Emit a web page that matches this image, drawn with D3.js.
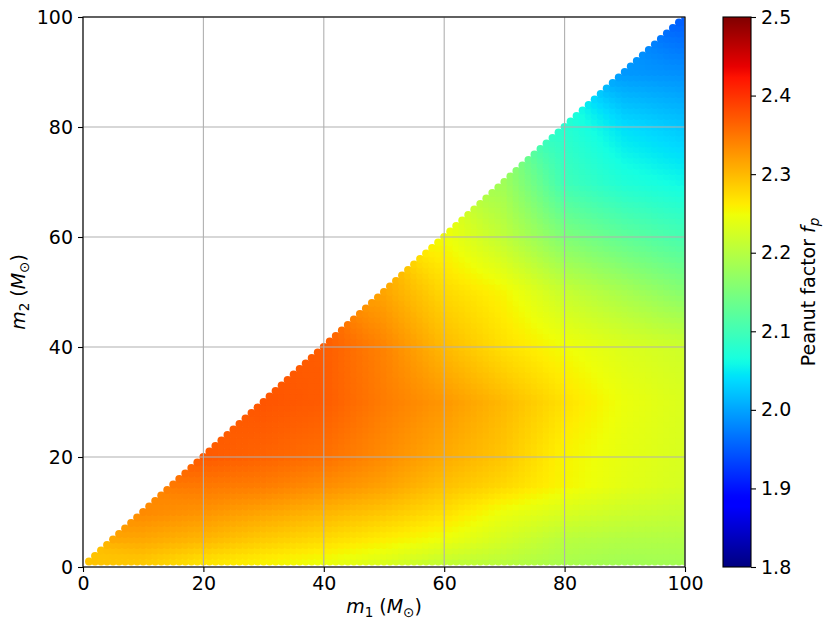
<!DOCTYPE html>
<html><head><meta charset="utf-8">
<script src="https://cdn.jsdelivr.net/npm/d3@7"></script>
<style>
body{margin:0;background:#fff}
svg{display:block}
text{font-family:"DejaVu Sans",sans-serif;fill:#000}
</style>
</head><body>
<svg id="chart" width="830" height="631"></svg>
<script>
// ---- data ----
// grid nodes of primary mass m1 and secondary mass m2 (solar masses)
const m1Nodes = [1, 10, 20, 30, 40, 50, 60, 70, 80, 90, 100];
const m2Nodes = [1, 5, 10, 15, 20, 30, 40, 50, 60, 70, 80, 90, 100];
// peanut factor f_p at (m1Nodes[i], m2Nodes[row]); null where m2 > m1
const fp_m2_1   = [2.292, 2.288, 2.269, 2.258, 2.247, 2.232, 2.212, 2.204, 2.190, 2.183, 2.185];
const fp_m2_5   = [null, 2.312, 2.301, 2.286, 2.274, 2.260, 2.245, 2.224, 2.202, 2.196, 2.195];
const fp_m2_10  = [null, 2.335, 2.327, 2.315, 2.303, 2.290, 2.272, 2.245, 2.229, 2.218, 2.212];
const fp_m2_15  = [null, null, 2.348, 2.345, 2.333, 2.318, 2.295, 2.277, 2.255, 2.238, 2.226];
const fp_m2_20  = [null, null, 2.370, 2.363, 2.354, 2.333, 2.310, 2.290, 2.256, 2.240, 2.228];
const fp_m2_30  = [null, null, null, 2.374, 2.369, 2.345, 2.325, 2.300, 2.270, 2.245, 2.230];
const fp_m2_40  = [null, null, null, null, 2.369, 2.340, 2.300, 2.271, 2.250, 2.232, 2.220];
const fp_m2_50  = [null, null, null, null, null, 2.315, 2.277, 2.255, 2.215, 2.188, 2.160];
const fp_m2_60  = [null, null, null, null, null, null, 2.250, 2.208, 2.155, 2.127, 2.105];
const fp_m2_70  = [null, null, null, null, null, null, null, 2.180, 2.099, 2.072, 2.058];
const fp_m2_80  = [null, null, null, null, null, null, null, null, 2.079, 2.041, 2.024];
const fp_m2_90  = [null, null, null, null, null, null, null, null, null, 1.992, 1.986];
const fp_m2_100 = [null, null, null, null, null, null, null, null, null, null, 1.950];
const fpRows = [fp_m2_1, fp_m2_5, fp_m2_10, fp_m2_15, fp_m2_20, fp_m2_30, fp_m2_40,
                fp_m2_50, fp_m2_60, fp_m2_70, fp_m2_80, fp_m2_90, fp_m2_100];
// sampled masses of the scatter (every integer, m2 <= m1)
const massMin = 1, massMax = 100;
const axisTicks = [0, 20, 40, 60, 80, 100];
const cbarTicks = [1.8, 1.9, 2.0, 2.1, 2.2, 2.3, 2.4, 2.5];
const cbarDomain = [1.8, 2.5];

// ---- helpers ----
function jet(t){
  t = Math.max(0, Math.min(1, t));
  const seg = pts => {
    for (let k = 0; k < pts.length - 1; k++) {
      const [a, va] = pts[k], [b, vb] = pts[k + 1];
      if (t <= b) return va + (vb - va) * (t - a) / (b - a);
    }
    return pts[pts.length - 1][1];
  };
  const r = seg([[0,0],[0.35,0],[0.66,1],[0.89,1],[1,0.5]]);
  const g = seg([[0,0],[0.125,0],[0.375,1],[0.64,1],[0.91,0],[1,0]]);
  const b = seg([[0,0.5],[0.11,1],[0.34,1],[0.65,0],[1,0]]);
  return d3.rgb(r * 255, g * 255, b * 255).formatHex();
}
function fpAt(a, b){
  let i = d3.bisectRight(m1Nodes, a) - 1; i = Math.max(0, Math.min(m1Nodes.length - 2, i));
  let j = d3.bisectRight(m2Nodes, b) - 1; j = Math.max(0, Math.min(m2Nodes.length - 2, j));
  const tx = (a - m1Nodes[i]) / (m1Nodes[i + 1] - m1Nodes[i]);
  const ty = (b - m2Nodes[j]) / (m2Nodes[j + 1] - m2Nodes[j]);
  let s = 0, w = 0;
  [[i, j, (1 - tx) * (1 - ty)], [i + 1, j, tx * (1 - ty)], [i, j + 1, (1 - tx) * ty], [i + 1, j + 1, tx * ty]]
    .forEach(([ii, jj, ww]) => { const v = fpRows[jj][ii]; if (v != null && ww > 0) { s += v * ww; w += ww; } });
  return w > 0 ? s / w : null;
}

// ---- layout ----
const svg = d3.select("#chart");
const L = 83, R = 685, T = 17, B = 567;
const x = d3.scaleLinear([0, 100], [L, R]);
const y = d3.scaleLinear([0, 100], [B, T]);
const color = d3.scaleSequential(cbarDomain, jet);

svg.append("defs").append("clipPath").attr("id", "clip")
  .append("rect").attr("x", L).attr("y", T).attr("width", R - L).attr("height", B - T);

const pts = [];
for (let a = massMin; a <= massMax; a++) for (let b = massMin; b <= a; b++) pts.push({m1: a, m2: b, fp: fpAt(a, b)});

svg.append("g").attr("clip-path", "url(#clip)")
  .selectAll("circle").data(pts).join("circle")
  .attr("cx", d => x(d.m1)).attr("cy", d => y(d.m2)).attr("r", 4)
  .attr("fill", d => color(d.fp));

// grid
const grid = svg.append("g").attr("stroke", "#b0b0b0").attr("stroke-width", 1.1);
axisTicks.forEach(t => {
  grid.append("line").attr("x1", x(t)).attr("x2", x(t)).attr("y1", T).attr("y2", B);
  grid.append("line").attr("y1", y(t)).attr("y2", y(t)).attr("x1", L).attr("x2", R);
});

// axes
const fs = 19;
const xAxis = svg.append("g").attr("transform", `translate(0,${B})`)
  .call(d3.axisBottom(x).tickValues(axisTicks).tickFormat(d3.format("d")).tickSize(5).tickPadding(5));
const yAxis = svg.append("g").attr("transform", `translate(${L},0)`)
  .call(d3.axisLeft(y).tickValues(axisTicks).tickFormat(d3.format("d")).tickSize(5).tickPadding(5));
[xAxis, yAxis].forEach(g => {
  g.select(".domain").remove();
  g.selectAll("text").attr("font-size", fs).attr("font-family", "DejaVu Sans");
  g.selectAll("line").attr("stroke", "#000").attr("stroke-width", 1.1);
});
svg.append("rect").attr("x", L).attr("y", T).attr("width", R - L).attr("height", B - T)
  .attr("fill", "none").attr("stroke", "#000").attr("stroke-width", 1.1);

// axis labels (math-style)
function mathLabel(g, sub){
  g.append("tspan").attr("font-style", "italic").text("m");
  g.append("tspan").attr("font-size", 13.5).attr("dy", 4).text(sub);
  g.append("tspan").attr("dy", -4).text(" (");
  g.append("tspan").attr("font-style", "italic").text("M");
  g.append("tspan").attr("font-size", 13.5).attr("dy", 4).text("\u2299");
  g.append("tspan").attr("dy", -4).text(")");
}
const xl = svg.append("text").attr("x", (L + R) / 2).attr("y", 613).attr("text-anchor", "middle").attr("font-size", fs);
mathLabel(xl, "1");
const yl = svg.append("text").attr("transform", `translate(25,${(T + B) / 2}) rotate(-90)`).attr("text-anchor", "middle").attr("font-size", fs);
mathLabel(yl, "2");

// colorbar
const cbL = 723, cbR = 751;
const cy = d3.scaleLinear(cbarDomain, [B, T]);
const grad = svg.select("defs").append("linearGradient").attr("id", "jetgrad")
  .attr("x1", 0).attr("x2", 0).attr("y1", 1).attr("y2", 0);
d3.range(0, 1.0001, 0.01).forEach(t => grad.append("stop").attr("offset", t).attr("stop-color", jet(t)));
svg.append("rect").attr("x", cbL).attr("y", T).attr("width", cbR - cbL).attr("height", B - T)
  .attr("fill", "url(#jetgrad)").attr("stroke", "#000").attr("stroke-width", 1.1);
const cAxis = svg.append("g").attr("transform", `translate(${cbR},0)`)
  .call(d3.axisRight(cy).tickValues(cbarTicks).tickFormat(d3.format(".1f")).tickSize(5).tickPadding(5));
cAxis.select(".domain").remove();
cAxis.selectAll("text").attr("font-size", fs).attr("font-family", "DejaVu Sans");
cAxis.selectAll("line").attr("stroke", "#000").attr("stroke-width", 1.1);

const cl = svg.append("text").attr("transform", `translate(815,${(T + B) / 2}) rotate(-90)`)
  .attr("text-anchor", "middle").attr("font-size", fs);
cl.append("tspan").text("Peanut factor ");
cl.append("tspan").attr("font-style", "italic").text("f");
cl.append("tspan").attr("font-style", "italic").attr("font-size", 13.5).attr("dy", 4).text("p");
</script>
</body></html>
